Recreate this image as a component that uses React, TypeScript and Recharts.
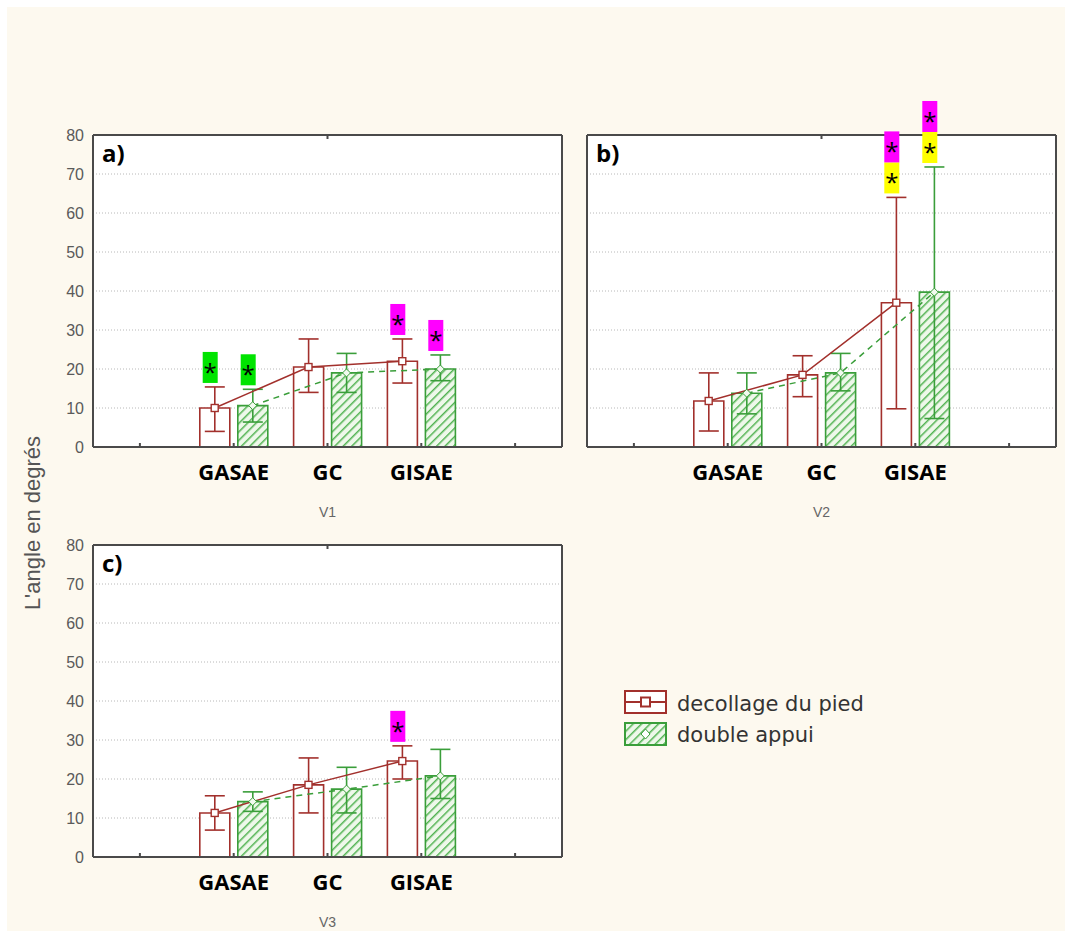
import React from 'react';
import { ComposedChart, Bar, Line, XAxis, YAxis, CartesianGrid, ErrorBar, ReferenceDot, Label } from 'recharts';

const categories = ['GASAE', 'GC', 'GISAE'];
const yTicks = [0, 10, 20, 30, 40, 50, 60, 70, 80];
const innerTicks = [10, 20, 30, 40, 50, 60, 70];
const slotTicks = [1, 2, 3, 4, 5];

// V1
const v1Decollage = [10, 20.5, 22];
const v1DecollageLow = [4, 14, 16.4];
const v1DecollageHigh = [15.4, 27.7, 27.7];
const v1Double = [10.6, 19, 20];
const v1DoubleLow = [6.4, 14, 17];
const v1DoubleHigh = [14.8, 24, 23.6];

// V2
const v2Decollage = [11.8, 18.5, 37];
const v2DecollageLow = [4.1, 12.9, 9.8];
const v2DecollageHigh = [19, 23.4, 64];
const v2Double = [13.8, 19, 39.7];
const v2DoubleLow = [8.5, 14.4, 7.3];
const v2DoubleHigh = [19, 24, 71.8];

// V3
const v3Decollage = [11.3, 18.5, 24.6];
const v3DecollageLow = [6.9, 11.3, 20];
const v3DecollageHigh = [15.7, 25.4, 28.5];
const v3Double = [14.2, 17.4, 20.8];
const v3DoubleLow = [11.7, 11.3, 15];
const v3DoubleHigh = [16.7, 23, 27.6];

const STAR_GREEN = '#00e400';
const STAR_PINK = '#ff00ff';
const STAR_YELLOW = '#ffff00';

// significance marks, colours listed bottom -> top
const v1Stars = [
  { series: 'dec', category: 'GASAE', colors: [STAR_GREEN] },
  { series: 'dbl', category: 'GASAE', colors: [STAR_GREEN] },
  { series: 'dec', category: 'GISAE', colors: [STAR_PINK] },
  { series: 'dbl', category: 'GISAE', colors: [STAR_PINK] },
];
const v2Stars = [
  { series: 'dec', category: 'GISAE', colors: [STAR_YELLOW, STAR_PINK] },
  { series: 'dbl', category: 'GISAE', colors: [STAR_YELLOW, STAR_PINK] },
];
const v3Stars = [{ series: 'dec', category: 'GISAE', colors: [STAR_PINK] }];

const RED = '#a2302c';
const GREEN = '#3a9e3a';
const FRAME = '#4a4a4a';
const BG = '#fdf9ef';

const PLOT_W = 469;
const BAR = 30;
const GAP = 8;
const slotPx = PLOT_W / 5;
const shift = (BAR + GAP) / 2 / slotPx;

const sans = '"Liberation Sans", Arial, sans-serif';
const bold = '"Open Sans", "Liberation Sans", sans-serif';

const Hatch = ({ id }: { id: string }) => (
  <pattern id={id} width="6" height="6" patternUnits="userSpaceOnUse" patternTransform="rotate(45)">
    <rect width="6" height="6" fill="#eef8ea" />
    <line x1="0" y1="0" x2="0" y2="6" stroke="#52b352" strokeWidth="3" />
  </pattern>
);

const StarStack = ({ cx, cy, colors }: any) => {
  const h = 31;
  const w = 15;
  return (
    <g>
      {colors.map((c: string, k: number) => {
        const bottom = cy - 4 - k * h;
        return (
          <g key={k}>
            <rect x={cx - 12} y={bottom - h} width={w} height={h} fill={c} />
            <text x={cx - 4.5} y={bottom - h + 29} textAnchor="middle" fontSize={24} fontFamily={bold} fill="#000">
              *
            </text>
          </g>
        );
      })}
    </g>
  );
};

const squareDot = (props: any) => {
  const { cx, cy, index } = props;
  return <rect key={index} x={cx - 3.5} y={cy - 3.5} width={7} height={7} fill="#fff" stroke={RED} strokeWidth={1.4} />;
};

const diamondDot = (props: any) => {
  const { cx, cy, index } = props;
  return (
    <path key={index} d={`M${cx},${cy - 4} L${cx + 4},${cy} L${cx},${cy + 4} L${cx - 4},${cy} Z`} fill="#f2faef" stroke={GREEN} strokeWidth={1} />
  );
};

interface PanelProps {
  id: string;
  tag: string;
  title: string;
  dec: number[];
  decLow: number[];
  decHigh: number[];
  dbl: number[];
  dblLow: number[];
  dblHigh: number[];
  stars: { series: string; category: string; colors: string[] }[];
  showY: boolean;
  left: number;
  top: number;
}

const Panel = (p: PanelProps) => {
  const rows = categories.map((name, i) => ({
    name,
    dec: p.dec[i],
    decErr: [p.dec[i] - p.decLow[i], p.decHigh[i] - p.dec[i]],
    dbl: p.dbl[i],
    dblErr: [p.dbl[i] - p.dblLow[i], p.dblHigh[i] - p.dbl[i]],
  }));
  const decLine = categories.map((_, i) => ({ x: i + 2 - shift, y: p.dec[i] }));
  const dblLine = categories.map((_, i) => ({ x: i + 2 + shift, y: p.dbl[i] }));
  const marks = p.stars.map((s) => {
    const i = categories.indexOf(s.category);
    const isDec = s.series === 'dec';
    return { x: i + 2 + (isDec ? -shift : shift), y: isDec ? p.decHigh[i] : p.dblHigh[i], colors: s.colors };
  });
  const yW = p.showY ? 53 : 5;
  const width = yW + PLOT_W + 9;

  return (
    <div style={{ position: 'absolute', left: p.left, top: p.top }}>
      <ComposedChart
        width={width}
        height={440}
        data={rows}
        margin={{ top: 40, right: 9, bottom: 0, left: 0 }}
        barSize={BAR}
        barGap={GAP}
      >
        <defs>
          <Hatch id={`hatch-${p.id}`} />
        </defs>
        <CartesianGrid vertical={false} fill="#fff" stroke="#b8b8b8" strokeDasharray="1 2" />
        <XAxis
          dataKey="name"
          type="category"
          padding={{ left: slotPx, right: slotPx }}
          height={88}
          tickLine={false}
          tickSize={6}
          tickMargin={11}
          axisLine={{ stroke: FRAME, strokeWidth: 2 }}
          tick={{ fill: '#000', fontSize: 22, fontWeight: 700, fontFamily: bold }}
        >
          <Label value={p.title} position="insideBottom" offset={18} style={{ fill: '#666', fontSize: 14, fontFamily: sans }} />
        </XAxis>
        <XAxis
          xAxisId="slot"
          type="number"
          dataKey="x"
          domain={[0.5, 5.5]}
          ticks={slotTicks}
          allowDataOverflow
          mirror
          tickSize={4}
          axisLine={false}
          tickLine={{ stroke: FRAME, strokeWidth: 2 }}
          tickFormatter={() => ''}
        />
        <XAxis
          xAxisId="top"
          orientation="top"
          type="number"
          domain={[0.5, 5.5]}
          ticks={slotTicks}
          allowDataOverflow
          mirror
          tickSize={4}
          axisLine={{ stroke: FRAME, strokeWidth: 2 }}
          tickLine={{ stroke: FRAME, strokeWidth: 2 }}
          tickFormatter={() => ''}
        />
        <YAxis
          domain={[0, 80]}
          ticks={yTicks}
          interval={0}
          width={yW}
          tickLine={false}
          tickSize={4}
          tickMargin={5}
          axisLine={{ stroke: FRAME, strokeWidth: 2 }}
          tick={{ fill: '#5a5a5a', fontSize: 16, fontFamily: sans }}
          tickFormatter={(v: number) => (p.showY ? String(v) : '')}
        />
        <YAxis
          yAxisId="inL"
          domain={[0, 80]}
          ticks={innerTicks}
          interval={0}
          mirror
          tickSize={4}
          axisLine={false}
          tickLine={{ stroke: FRAME, strokeWidth: 2 }}
          tickFormatter={() => ''}
        />
        <YAxis
          yAxisId="inR"
          orientation="right"
          domain={[0, 80]}
          ticks={innerTicks}
          interval={0}
          mirror
          tickSize={4}
          axisLine={{ stroke: FRAME, strokeWidth: 2 }}
          tickLine={{ stroke: FRAME, strokeWidth: 2 }}
          tickFormatter={() => ''}
        />
        <Bar dataKey="dec" fill="#fff" stroke={RED} strokeWidth={1.6} isAnimationActive={false}>
          <ErrorBar dataKey="decErr" direction="y" width={10} stroke={RED} strokeWidth={1.6} />
        </Bar>
        <Bar dataKey="dbl" fill={`url(#hatch-${p.id})`} stroke={GREEN} strokeWidth={1.6} isAnimationActive={false}>
          <ErrorBar dataKey="dblErr" direction="y" width={10} stroke={GREEN} strokeWidth={1.6} />
        </Bar>
        <Line
          xAxisId="slot"
          data={decLine}
          dataKey="y"
          stroke={RED}
          strokeWidth={1.5}
          dot={squareDot}
          activeDot={false}
          isAnimationActive={false}
        />
        <Line
          xAxisId="slot"
          data={dblLine}
          dataKey="y"
          stroke={GREEN}
          strokeWidth={1.5}
          strokeDasharray="6 5"
          dot={diamondDot}
          activeDot={false}
          isAnimationActive={false}
        />
        {marks.map((m, k) => (
          <ReferenceDot
            key={k}
            xAxisId="slot"
            x={m.x}
            y={m.y}
            r={0}
            ifOverflow="visible"
            shape={(sp: any) => <StarStack cx={sp.cx} cy={sp.cy} colors={m.colors} />}
          />
        ))}
      </ComposedChart>
      <div
        style={{
          position: 'absolute',
          left: yW + 9,
          top: 46,
          fontFamily: bold,
          fontWeight: 700,
          fontSize: 24,
          lineHeight: '24px',
          color: '#000',
        }}
      >
        {p.tag}
      </div>
    </div>
  );
};

const Legend = () => (
  <svg style={{ position: 'absolute', left: 620, top: 685 }} width={280} height={70}>
    <defs>
      <Hatch id="hatch-legend" />
    </defs>
    <rect x={5} y={6} width={41} height={22} fill="#fff" stroke={RED} strokeWidth={2} />
    <line x1={5} y1={17} x2={46} y2={17} stroke={RED} strokeWidth={2} />
    <rect x={21} y={12.5} width={9} height={9} fill="#fff" stroke={RED} strokeWidth={2} />
    <text x={57} y={26} fontFamily="'DejaVu Sans', sans-serif" fontSize={21} fill="#333">
      decollage du pied
    </text>
    <rect x={5} y={38} width={41} height={22} fill="url(#hatch-legend)" stroke={GREEN} strokeWidth={2} />
    <path d="M25.5,44 L30,49 L25.5,54 L21,49 Z" fill="#fff" stroke={GREEN} strokeWidth={1} />
    <text x={57} y={57} fontFamily="'DejaVu Sans', sans-serif" fontSize={21} fill="#333">
      double appui
    </text>
  </svg>
);

export default function App() {
  return (
    <div style={{ position: 'absolute', left: 0, top: 0, width: 1065, height: 931, background: '#fff', overflow: 'hidden' }}>
      <div style={{ position: 'absolute', left: 7, top: 7, right: 0, bottom: 0, background: BG }} />
      <Panel
        id="a"
        tag="a)"
        title="V1"
        dec={v1Decollage}
        decLow={v1DecollageLow}
        decHigh={v1DecollageHigh}
        dbl={v1Double}
        dblLow={v1DoubleLow}
        dblHigh={v1DoubleHigh}
        stars={v1Stars}
        showY
        left={40}
        top={95}
      />
      <Panel
        id="b"
        tag="b)"
        title="V2"
        dec={v2Decollage}
        decLow={v2DecollageLow}
        decHigh={v2DecollageHigh}
        dbl={v2Double}
        dblLow={v2DoubleLow}
        dblHigh={v2DoubleHigh}
        stars={v2Stars}
        showY={false}
        left={582}
        top={95}
      />
      <Panel
        id="c"
        tag="c)"
        title="V3"
        dec={v3Decollage}
        decLow={v3DecollageLow}
        decHigh={v3DecollageHigh}
        dbl={v3Double}
        dblLow={v3DoubleLow}
        dblHigh={v3DoubleHigh}
        stars={v3Stars}
        showY
        left={40}
        top={505}
      />
      <div
        style={{
          position: 'absolute',
          left: 33,
          top: 523,
          transform: 'translate(-50%, -50%) rotate(-90deg)',
          whiteSpace: 'nowrap',
          fontFamily: sans,
          fontSize: 22,
          color: '#555',
        }}
      >
        L'angle en degrés
      </div>
      <Legend />
    </div>
  );
}
